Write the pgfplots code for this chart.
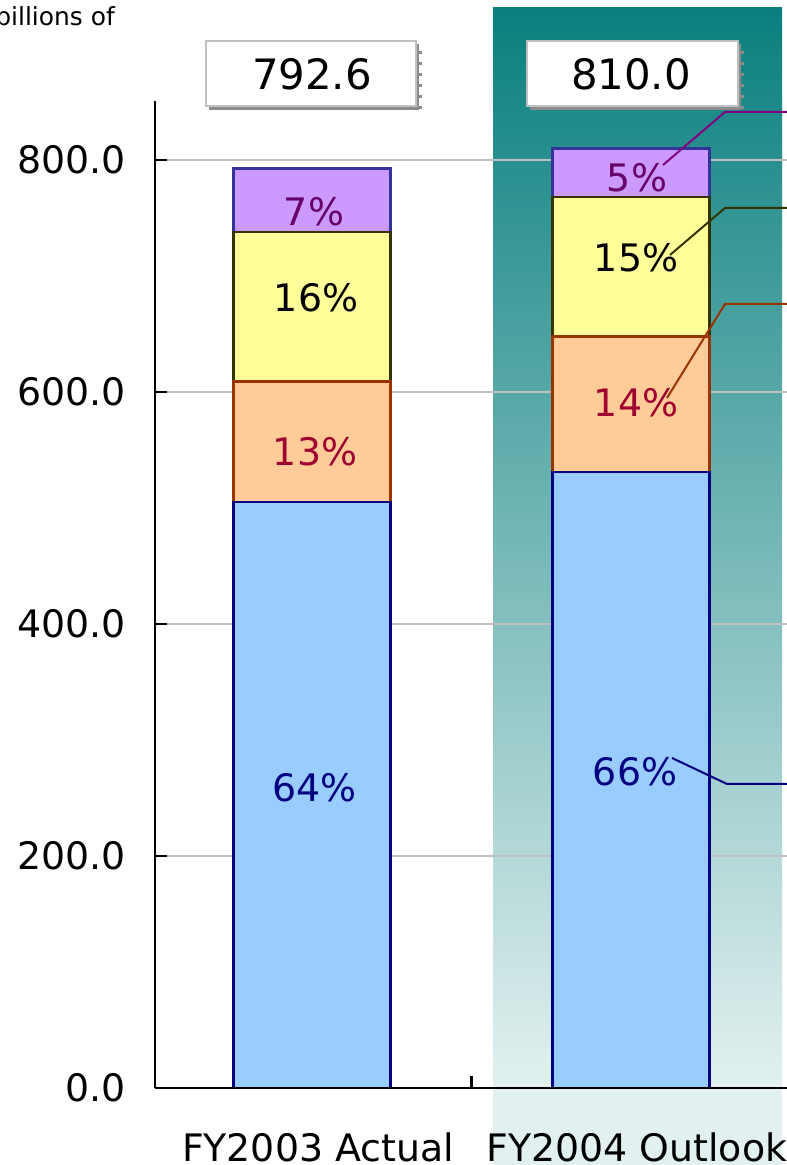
\documentclass[border=0pt]{standalone}
\usepackage{fontspec}
\setmainfont{DejaVu Sans}
\usepackage{pgfplots}
\pgfplotsset{compat=1.18}
\definecolor{tealtop}{HTML}{0A7F7F}
\definecolor{tealmid}{HTML}{8AB3B1}
\definecolor{teallow}{HTML}{E2F1F0}
\definecolor{gridgray}{HTML}{C0C0C0}
\definecolor{barblue}{HTML}{99CCFF}
\definecolor{barorange}{HTML}{FFCC99}
\definecolor{baryellow}{HTML}{FFFF99}
\definecolor{barpurple}{HTML}{CC99FF}
\definecolor{navy}{HTML}{000080}
\definecolor{rust}{HTML}{993300}
\definecolor{darkolive}{HTML}{333300}
\definecolor{purpleborder}{HTML}{333399}
\definecolor{labpurple}{HTML}{660066}
\definecolor{leadpurple}{HTML}{800080}
\definecolor{labred}{HTML}{A00030}
\definecolor{boxgray}{HTML}{C0C0C0}
\definecolor{shadowgray}{HTML}{8C8C8C}
\pgfplotsset{
  frame/.style={
    at={(155bp,77bp)}, anchor=south west,
    x=319bp, y=1.16bp,
    xmin=-0.492, xmax=1.49, ymin=0, ymax=851,
    clip=false,
    axis x line=bottom, axis y line=left,
    axis line style={-, black, line width=2bp},
    ytick={0,200,400,600,800},
  }
}
\begin{document}
\begin{tikzpicture}[x=1bp,y=1bp]
\useasboundingbox (0,0) rectangle (787,1165);
\shade[top color=tealtop, middle color=tealmid, bottom color=teallow] (493,77) rectangle (782,1157);
\fill[teallow] (493,0) rectangle (782,77);
\node[anchor=base east, font=\fontsize{25}{30}\selectfont, inner sep=0pt] at (115,1139) {billions of};
\begin{axis}[
  frame,
  ybar stacked, bar width=0.492,
  ymajorgrids, grid style={color=gridgray, line width=2.5bp},
  major tick length=0pt,
  /pgf/number format/.cd, fixed, fixed zerofill, precision=1, assume math mode=true,
  /pgfplots/.cd,
  yticklabel style={font=\fontsize{38}{40}\selectfont, anchor=east, inner sep=0pt, xshift=-29bp},
  xtick={0,1},
  xticklabels={FY2003 Actual,FY2004 Outlook},
  xticklabel style={font=\fontsize{38}{40}\selectfont, anchor=base, yshift=-73bp, xshift=6bp},
]
\addplot[fill=barblue, draw=navy, line width=2.5bp] coordinates {(0,505) (1,531)};
\addplot[fill=barorange, draw=rust, line width=2.5bp] coordinates {(0,104) (1,117)};
\addplot[fill=baryellow, draw=darkolive, line width=2.5bp] coordinates {(0,129) (1,120)};
\addplot[fill=barpurple, draw=purpleborder, line width=2.5bp] coordinates {(0,54.6) (1,42)};
\end{axis}
% overlay axis for ticks drawn above the grid
\begin{axis}[
  frame,
  tick align=inside, major tick length=12bp,
  tick style={black, line width=2.5bp},
  yticklabels={}, xtick={0.5}, xticklabels={},
]
\end{axis}

% percentage labels
\node[text=labpurple, font=\fontsize{38}{40}\selectfont] at (314,953) {7\%};
\node[text=black, font=\fontsize{38}{40}\selectfont] at (316,867) {16\%};
\node[text=labred, font=\fontsize{38}{40}\selectfont] at (315,713) {13\%};
\node[text=navy, font=\fontsize{38}{40}\selectfont] at (314.5,377) {64\%};
\node[text=labpurple, font=\fontsize{38}{40}\selectfont] at (637,987) {5\%};
\node[text=black, font=\fontsize{38}{40}\selectfont] at (636,907) {15\%};
\node[text=labred, font=\fontsize{38}{40}\selectfont] at (636,762) {14\%};
\node[text=navy, font=\fontsize{38}{40}\selectfont] at (635,393) {66\%};

% leader lines
\draw[leadpurple, line width=2bp] (663,1000) -- (725,1053) -- (787,1053);
\draw[darkolive, line width=2bp] (670,910) -- (725,957) -- (787,957);
\draw[rust, line width=2bp] (667,767) -- (725,861) -- (787,861);
\draw[navy, line width=2bp] (672,407) -- (727,381) -- (787,381);

% total boxes
\fill[shadowgray] (209,1055) rectangle (419,1121);
\filldraw[fill=white, draw=boxgray, line width=2.5bp] (206,1059) rectangle (416,1124);
\node[font=\fontsize{42}{44}\selectfont, inner sep=0pt] at (312,1091) {792.6};
\draw[shadowgray, line width=4bp, dash pattern=on 3bp off 8bp] (420,1114) -- (420,1056);
\fill[shadowgray] (530,1055) rectangle (741,1121);
\filldraw[fill=white, draw=boxgray, line width=2.5bp] (527,1059) rectangle (738,1124);
\node[font=\fontsize{42}{44}\selectfont, inner sep=0pt] at (631,1091) {810.0};
\draw[shadowgray, line width=4bp, dash pattern=on 3bp off 8bp] (742,1114) -- (742,1056);
\end{tikzpicture}
\end{document}
